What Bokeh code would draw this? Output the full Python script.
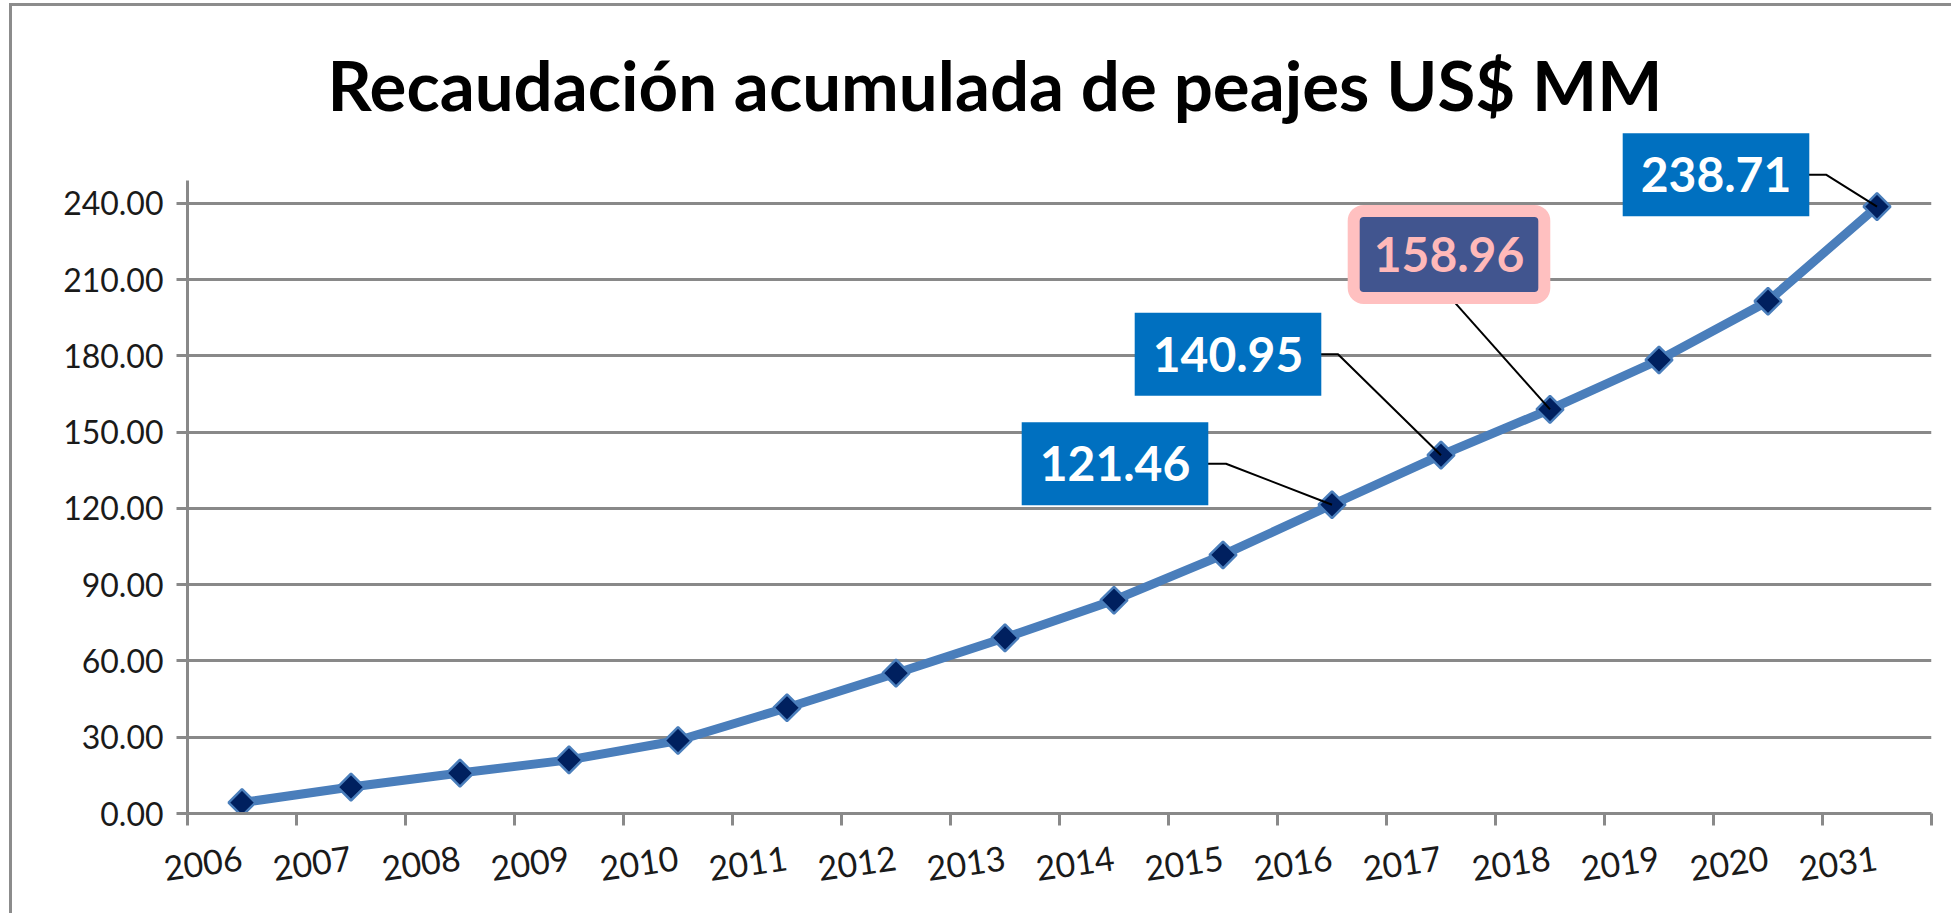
import math
from bokeh.plotting import figure
from bokeh.models import Range1d, FixedTicker, NumeralTickFormatter, Label
from bokeh.embed import file_html
from bokeh.resources import INLINE

# ---------------- data ----------------
years = ["2006", "2007", "2008", "2009", "2010", "2011", "2012", "2013",
         "2014", "2015", "2016", "2017", "2018", "2019", "2020", "2031"]
values = [4.3, 10.4, 15.9, 21.1, 28.7, 41.6, 55.2, 69.1,
          83.9, 101.7, 121.46, 140.95, 158.96, 178.4, 201.5, 238.71]
y_ticks = [0, 30, 60, 90, 120, 150, 180, 210, 240]
title_text = "Recaudación acumulada de peajes US$ MM"
labeled_years = ["2016", "2017", "2018", "2031"]

# ---------------- layout / style ----------------
FRAME_W = 1744
AXIS_TOP = 249          # value where the drawn y axis ends
AXIS_PX = 633           # pixel length of the drawn y axis
FRAME_H = 807           # frame extends up to the top so the title/labels fit inside
n = len(years)
centers = [i + 0.5 for i in range(n)]
bounds = [float(i) for i in range(n + 1)]
px_x = n / FRAME_W          # data units per pixel (x)
px_y = AXIS_TOP / AXIS_PX   # data units per pixel (y)
Y_END = FRAME_H * px_y

# label box offsets (pixels, relative to the data point; +dy is up)
label_off = {"2016": (-217, 41), "2017": (-213, 101), "2018": (-101, 155), "2031": (-161, 32)}
# leader polylines (pixels, relative to the data point)
leader_off = {
    "2016": [(-125, 41), (-106, 41), (0, 0)],
    "2017": [(-121, 101), (-103, 101), (0, 0)],
    "2018": [(-98, 110), (0, 0)],
    "2031": [(-69, 32), (-51, 32), (0, 0)],
}
TITLE_POS = (140, 729)   # screen px (baseline of the title)

FONT = "Lato"
GRID = "#898989"

p = figure(frame_width=FRAME_W, frame_height=FRAME_H,
           x_range=Range1d(0, n), y_range=Range1d(0, Y_END),
           output_backend="svg", toolbar_location=None,
           min_border_left=175, min_border_top=0, min_border_right=20, min_border_bottom=100)
p.styles = {"margin-left": "9px", "margin-top": "3px",
            "border-left": "3px solid #8c8c8c", "border-top": "3px solid #8c8c8c"}
p.outline_line_color = None
p.background_fill_color = "white"
p.border_fill_color = "white"

# title as a text annotation
p.add_layout(Label(x=TITLE_POS[0], y=TITLE_POS[1], x_units="screen", y_units="screen",
                   text=title_text, text_font=FONT, text_font_style="bold",
                   text_font_size="69px", text_color="black",
                   text_align="left", text_baseline="alphabetic"))

# y axis
p.yaxis.ticker = FixedTicker(ticks=y_ticks)
p.yaxis.formatter = NumeralTickFormatter(format="0.00")
p.yaxis.bounds = (0, AXIS_TOP)
p.yaxis.major_label_text_font = FONT
p.yaxis.major_label_text_font_size = "32px"
p.yaxis.major_label_text_color = "#1a1a1a"
p.yaxis.axis_line_color = GRID
p.yaxis.axis_line_width = 3
p.yaxis.major_tick_line_color = GRID
p.yaxis.major_tick_line_width = 3
p.yaxis.major_tick_out = 11
p.yaxis.major_tick_in = 0
p.yaxis.minor_tick_line_color = None
p.yaxis.major_label_standoff = 13

# x axis
p.xaxis.ticker = FixedTicker(ticks=centers, minor_ticks=bounds)
p.xaxis.major_label_overrides = {c: y for c, y in zip(centers, years)}
p.xaxis.major_label_orientation = 0.14
p.xaxis.major_label_text_font = FONT
p.xaxis.major_label_text_font_size = "34px"
p.xaxis.major_label_text_color = "#1a1a1a"
p.xaxis.axis_line_color = GRID
p.xaxis.axis_line_width = 3
p.xaxis.major_tick_line_color = None
p.xaxis.major_tick_out = 0
p.xaxis.major_tick_in = 0
p.xaxis.minor_tick_line_color = GRID
p.xaxis.minor_tick_line_width = 3
p.xaxis.minor_tick_out = 12
p.xaxis.minor_tick_in = 0
p.xaxis.major_label_standoff = 32

p.xgrid.grid_line_color = None
p.ygrid.ticker = FixedTicker(ticks=[t for t in y_ticks if t > 0])
p.ygrid.grid_line_color = GRID
p.ygrid.grid_line_width = 3

# series
p.line(centers, values, line_color="#4a7ebb", line_width=9, line_join="round")
p.scatter(centers, values, marker="square", size=19, angle=math.pi / 4,
          fill_color="#00205f", line_color="#4a7ebb", line_width=2.5)

# leaders
xs, ys = [], []
for yr in labeled_years:
    i = years.index(yr)
    xs.append([centers[i] + dx * px_x for dx, dy in leader_off[yr]])
    ys.append([values[i] + dy * px_y for dx, dy in leader_off[yr]])
p.multi_line(xs, ys, line_color="black", line_width=2)

# labels
for yr in labeled_years:
    i = years.index(yr)
    dx, dy = label_off[yr]
    special = yr == "2018"
    lab = Label(x=centers[i], y=values[i], x_offset=dx, y_offset=dy,
                text="%.2f" % values[i], text_align="center", text_baseline="middle",
                text_font=FONT, text_font_style="bold", text_font_size="48px",
                text_color="#ffb9b9" if special else "white",
                background_fill_color="#41558f" if special else "#0070c0",
                border_line_color="#ffc0c0" if special else None,
                border_line_width=12 if special else 0,
                border_radius=10 if special else 0,
                padding=(20, 26) if special else (18, 24))
    p.add_layout(lab)

open("out.html", "w").write(file_html(p, INLINE))
